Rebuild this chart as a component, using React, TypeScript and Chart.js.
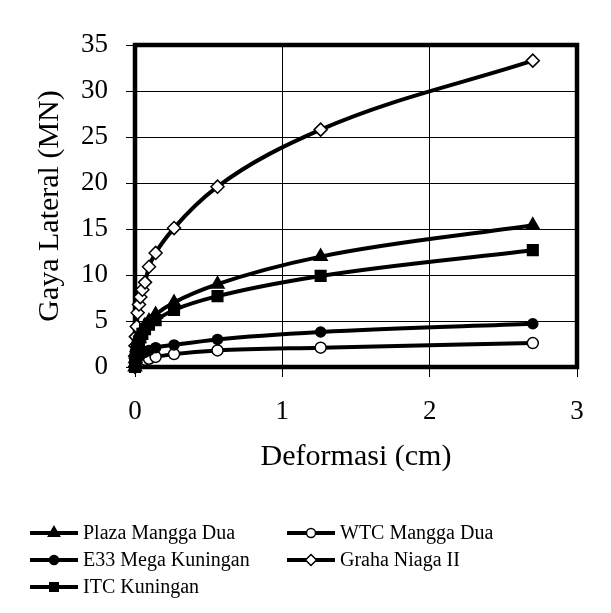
import React, { useEffect, useRef } from 'react';
import { Chart, registerables } from 'chart.js';

Chart.register(...registerables);

// ---- data ----
const deformasi = [0, 0.001, 0.003, 0.006, 0.012, 0.018, 0.027, 0.036, 0.05, 0.068, 0.095, 0.14, 0.265, 0.56, 1.26, 2.7];
const plazaManggaDua = [0, 0.4, 0.9, 1.4, 2.1, 2.6, 3.1, 3.5, 4.0, 4.5, 5.0, 5.7, 7.0, 9.0, 12.0, 15.4];
const e33MegaKuningan = [0, 0.2, 0.4, 0.6, 0.8, 1.0, 1.2, 1.3, 1.5, 1.6, 1.8, 2.1, 2.4, 3.0, 3.8, 4.7];
const itcKuningan = [0, 0.4, 0.8, 1.3, 1.9, 2.3, 2.8, 3.2, 3.6, 4.1, 4.6, 5.1, 6.2, 7.7, 9.9, 12.7];
const wtcManggaDua = [0, 0.05, 0.1, 0.2, 0.3, 0.4, 0.5, 0.6, 0.7, 0.8, 0.9, 1.1, 1.4, 1.8, 2.1, 2.6];
const grahaNiagaII = [0, 1.2, 2.3, 3.3, 4.4, 5.9, 6.8, 7.6, 8.4, 9.2, 10.9, 12.4, 15.1, 19.6, 25.8, 33.3];

const seriesNames = ['Plaza Mangga Dua', 'E33 Mega Kuningan', 'ITC Kuningan', 'WTC Mangga Dua', 'Graha Niaga II'];
const seriesValues = [plazaManggaDua, e33MegaKuningan, itcKuningan, wtcManggaDua, grahaNiagaII];

const xAxisTitle = 'Deformasi (cm)';
const yAxisTitle = 'Gaya Lateral (MN)';

const FONT = '"Liberation Serif", "Times New Roman", serif';

type MarkerStyle = 'triangle' | 'circle' | 'rect' | 'rectRot';
const markerStyles: MarkerStyle[] = ['triangle', 'circle', 'rect', 'circle', 'rectRot'];
const markerFills = ['#000', '#000', '#000', '#fff', '#fff'];
const markerRadius = [7.5, 5, 7.5, 5.5, 6.5];
const legendRadius = [6.5, 4.5, 6, 4.5, 5.5];

function drawMarker(ctx: CanvasRenderingContext2D, style: MarkerStyle, x: number, y: number, r: number, fill: string) {
  ctx.save();
  ctx.beginPath();
  if (style === 'circle') {
    ctx.arc(x, y, r, 0, Math.PI * 2);
  } else if (style === 'triangle') {
    const h = r * 1.5;
    const w = r * Math.sqrt(3) / 2;
    ctx.moveTo(x, y - r);
    ctx.lineTo(x + w, y - r + h);
    ctx.lineTo(x - w, y - r + h);
    ctx.closePath();
  } else if (style === 'rect') {
    const s = r * Math.SQRT1_2;
    ctx.rect(x - s, y - s, 2 * s, 2 * s);
  } else {
    ctx.moveTo(x, y - r);
    ctx.lineTo(x + r, y);
    ctx.lineTo(x, y + r);
    ctx.lineTo(x - r, y);
    ctx.closePath();
  }
  ctx.fillStyle = fill;
  ctx.fill();
  ctx.lineWidth = 1.5;
  ctx.strokeStyle = '#000';
  ctx.stroke();
  ctx.restore();
}

const borderPlugin = {
  id: 'plotBorder',
  beforeDatasetsDraw(chart: any) {
    const { ctx, chartArea } = chart;
    const { left, top, right, bottom } = chartArea;
    ctx.save();
    ctx.lineWidth = 4.5;
    ctx.strokeStyle = '#000';
    ctx.strokeRect(left, top, right - left, bottom - top);
    ctx.restore();
  },
};

const legendPlugin = {
  id: 'seriesLegend',
  afterDraw(chart: any) {
    const ctx: CanvasRenderingContext2D = chart.ctx;
    const cols = [30, 287];
    const rows = [533, 560, 587];
    const lineLen = 48;
    chart.data.datasets.forEach((ds: any, i: number) => {
      const col = Math.floor(i / 3);
      const row = i % 3;
      const x0 = cols[col];
      const y = rows[row];
      ctx.save();
      ctx.strokeStyle = '#000';
      ctx.lineWidth = 4;
      ctx.beginPath();
      ctx.moveTo(x0, y);
      ctx.lineTo(x0 + lineLen, y);
      ctx.stroke();
      ctx.restore();
      drawMarker(ctx, markerStyles[i], x0 + lineLen / 2, y, legendRadius[i], markerFills[i]);
      ctx.save();
      ctx.fillStyle = '#000';
      ctx.font = `20px ${FONT}`;
      ctx.textBaseline = 'middle';
      ctx.textAlign = 'left';
      ctx.fillText(ds.label, x0 + lineLen + 5, y + 1);
      ctx.restore();
    });
  },
};

export default function App() {
  const canvasRef = useRef<HTMLCanvasElement | null>(null);

  useEffect(() => {
    if (!canvasRef.current) return;
    const datasets = seriesNames.map((name, i) => ({
      label: name,
      data: deformasi.map((x, j) => ({ x, y: seriesValues[i][j] })),
      borderColor: '#000',
      borderWidth: 4,
      backgroundColor: markerFills[i],
      pointStyle: markerStyles[i],
      pointRadius: markerRadius[i],
      pointBackgroundColor: markerFills[i],
      pointBorderColor: '#000',
      pointBorderWidth: 1.5,
      cubicInterpolationMode: 'monotone' as const,
      fill: false,
      clip: false as any,
    }));

    const chart = new Chart(canvasRef.current, {
      type: 'line',
      data: { datasets },
      plugins: [borderPlugin, legendPlugin],
      options: {
        responsive: false,
        animation: false,
        layout: { padding: { top: 45, right: 34, bottom: 136, left: 0 } },
        plugins: {
          legend: { display: false },
          tooltip: { enabled: false },
        },
        scales: {
          x: {
            type: 'linear',
            min: 0,
            max: 3,
            afterFit: (s: any) => { s.height = 110; },
            ticks: {
              stepSize: 1,
              color: '#000',
              padding: 19,
              font: { family: FONT, size: 27 },
              maxRotation: 0,
            },
            grid: { color: '#000', lineWidth: 1, tickLength: 10, tickColor: '#000' },
            border: { display: false },
            title: {
              display: true,
              text: xAxisTitle,
              color: '#000',
              font: { family: FONT, size: 30 },
              padding: { top: 0, bottom: 2 },
            },
          },
          y: {
            type: 'linear',
            min: 0,
            max: 35,
            afterFit: (s: any) => { s.width = 135; },
            ticks: {
              stepSize: 5,
              color: '#000',
              padding: 18,
              font: { family: FONT, size: 27 },
            },
            grid: { color: '#000', lineWidth: 1, tickLength: 9, tickColor: '#000' },
            border: { display: false },
            title: {
              display: true,
              text: yAxisTitle,
              color: '#000',
              font: { family: FONT, size: 30 },
              padding: { top: 32, bottom: 0 },
            },
          },
        },
      },
    });
    return () => chart.destroy();
  }, []);

  return (
    <div style={{ position: 'fixed', left: 0, top: 0, width: 611, height: 613, background: '#fff' }}>
      <canvas ref={canvasRef} width={611} height={613} />
    </div>
  );
}
